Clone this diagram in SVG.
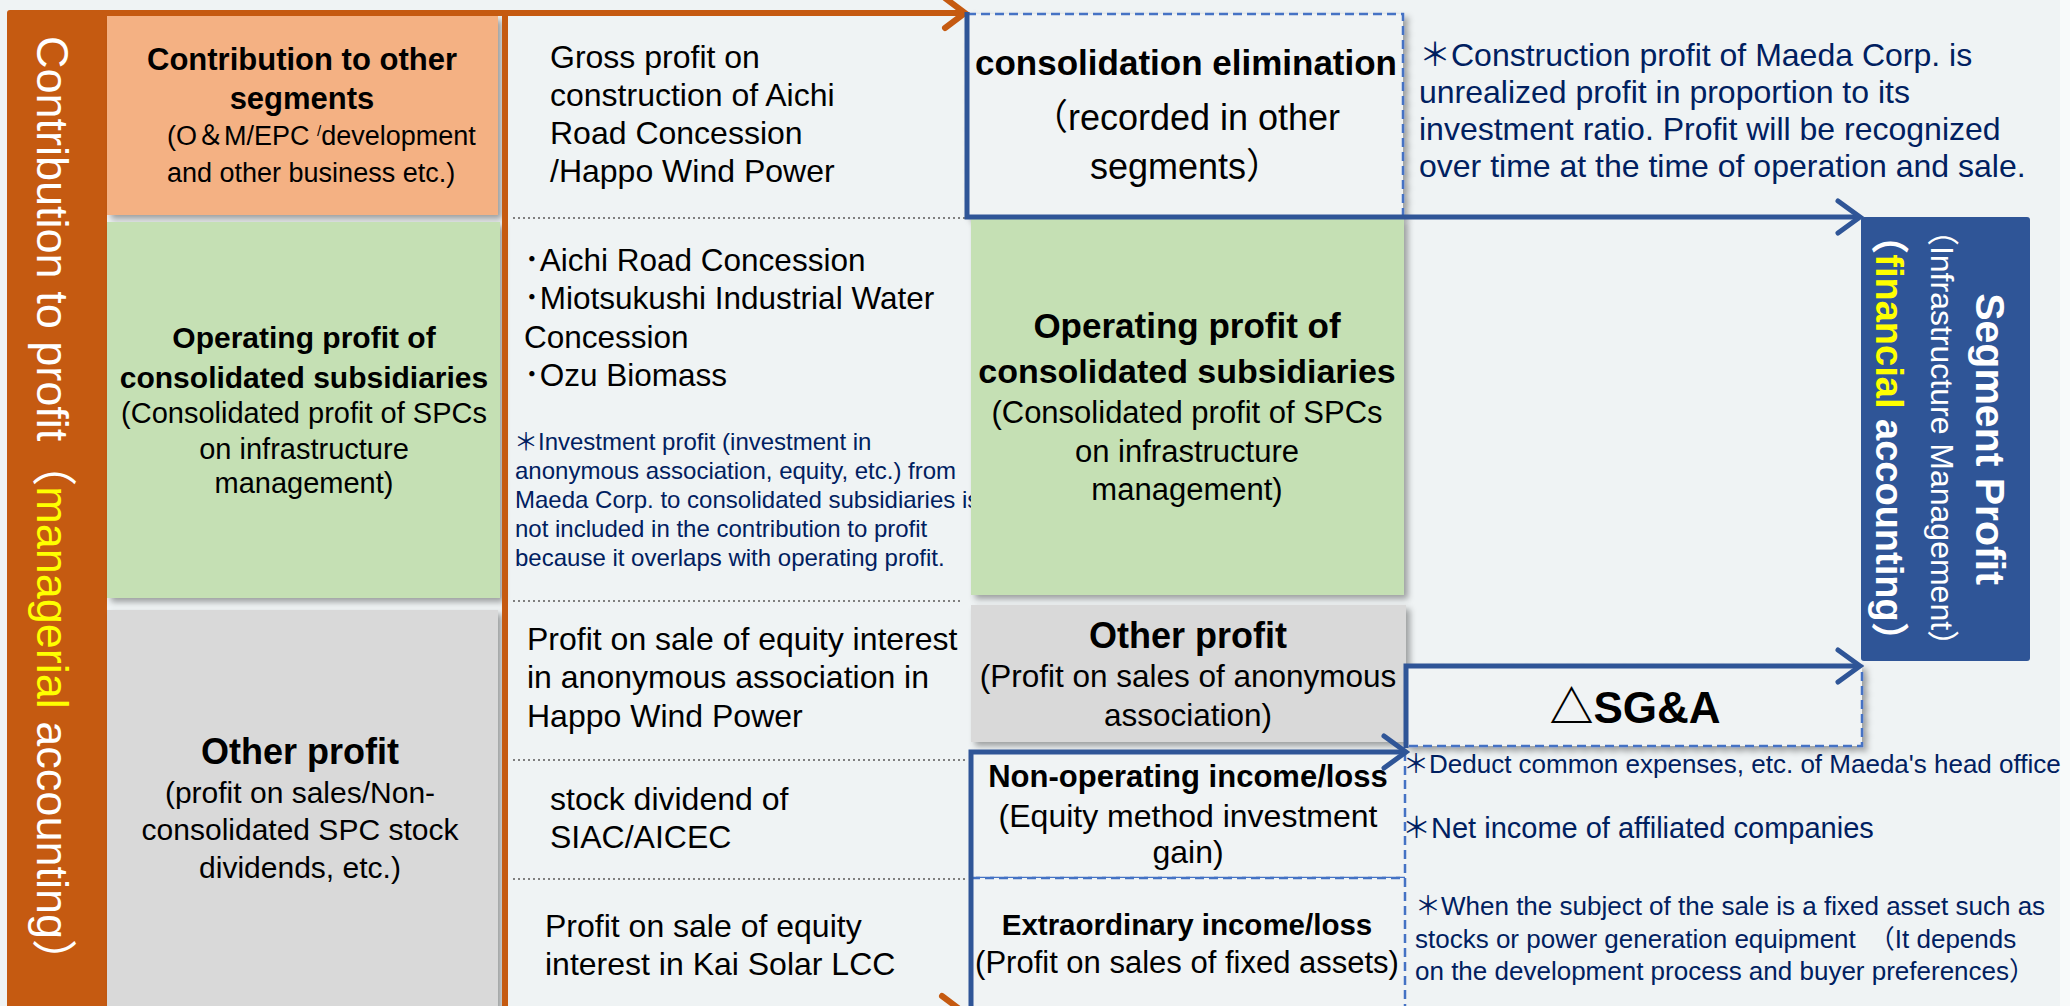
<svg xmlns="http://www.w3.org/2000/svg" width="2070" height="1006" viewBox="0 0 2070 1006">
<defs>
<style>
text{font-family:"Liberation Sans","Noto Sans CJK JP",sans-serif}
.b{font-weight:bold;fill:#000}
.r{fill:#000}
.c{text-anchor:middle}
.n{fill:#002060}
.w{fill:#fff}
.y{fill:#FFFF00}
.sep{stroke:#7F7F7F;stroke-width:2;stroke-dasharray:2 3;fill:none}
.blue{stroke:#2F5597;stroke-width:5;fill:none}
.orange{stroke:#C55A11;stroke-width:6;fill:none}
.dash{fill:#F0F3F4;stroke:#4472C4;stroke-width:2.5;stroke-dasharray:9 5}
</style>
<filter id="sh" x="-10%" y="-10%" width="130%" height="140%"><feDropShadow dx="4" dy="4" stdDeviation="3" flood-color="#000" flood-opacity="0.35"/></filter>
<marker id="ab" markerUnits="userSpaceOnUse" markerWidth="40" markerHeight="40" refX="26" refY="20" orient="auto" overflow="visible"><path d="M4,4 L26,20 L4,36" fill="none" stroke="#2F5597" stroke-width="5" stroke-linecap="round"/></marker>
<marker id="ao" markerUnits="userSpaceOnUse" markerWidth="40" markerHeight="40" refX="26" refY="20" orient="auto" overflow="visible"><path d="M6,5 L26,20 L6,35" fill="none" stroke="#C55A11" stroke-width="6" stroke-linecap="round"/></marker>
</defs>
<rect x="0" y="0" width="2070" height="1006" fill="#EFF3F4"/>
<rect x="2060" y="0" width="10" height="1006" fill="#F8FAFA"/>

<g id="left-bar">
<rect x="7" y="10" width="100" height="1000" rx="3" fill="#C55A11"/>
<text class="w c" font-size="45" transform="translate(37,510) rotate(90)">Contribution to profit（<tspan class="y">managerial</tspan> accounting）</text>
</g>

<g id="contribution-other-segments">
<rect x="107" y="16" width="391" height="199" fill="#F4B183" filter="url(#sh)"/>
<text class="b c" font-size="31" x="302" y="70">Contribution to other</text>
<text class="b c" font-size="31" x="302" y="109">segments</text>
<text class="r" font-size="27" x="167" y="145">(O＆M/EPC <tspan font-size="15" dy="-9">/</tspan><tspan dy="9">development</tspan></text>
<text class="r" font-size="27" x="167" y="182">and other business etc.)</text>
</g>

<g id="operating-profit-left">
<rect x="107" y="222" width="393" height="376" fill="#C5E0B4" filter="url(#sh)"/>
<text class="b c" font-size="30" x="304" y="348">Operating profit of</text>
<text class="b c" font-size="30" x="304" y="388">consolidated subsidiaries</text>
<text class="r c" font-size="29" x="304" y="423">(Consolidated profit of SPCs</text>
<text class="r c" font-size="29" x="304" y="459">on infrastructure</text>
<text class="r c" font-size="29" x="304" y="493">management)</text>
</g>

<g id="other-profit-left">
<rect x="107" y="610" width="391" height="400" fill="#D9D9D9" filter="url(#sh)"/>
<text class="b c" font-size="36" x="300" y="764">Other profit</text>
<text class="r c" font-size="30" x="300" y="803">(profit on sales/Non-</text>
<text class="r c" font-size="30" x="300" y="840">consolidated SPC stock</text>
<text class="r c" font-size="30" x="300" y="878">dividends, etc.)</text>
</g>

<g id="separators">
<line class="sep" x1="513" y1="218" x2="966" y2="218"/>
<line class="sep" x1="513" y1="601" x2="962" y2="601"/>
<line class="sep" x1="513" y1="760" x2="966" y2="760"/>
<line class="sep" x1="513" y1="879" x2="966" y2="879"/>
</g>

<g id="gross-profit-text">
<text class="r" font-size="32" x="550" y="68">Gross profit on</text>
<text class="r" font-size="32" x="550" y="106">construction of Aichi</text>
<text class="r" font-size="32" x="550" y="144">Road Concession</text>
<text class="r" font-size="32" x="550" y="182">/Happo Wind Power</text>
</g>

<g id="subsidiaries-list">
<text class="r" font-size="31.5" x="524" y="271">･Aichi Road Concession</text>
<text class="r" font-size="31.5" x="524" y="309">･Miotsukushi Industrial Water</text>
<text class="r" font-size="31.5" x="524" y="348">Concession</text>
<text class="r" font-size="31.5" x="524" y="386">･Ozu Biomass</text>
<text class="n" font-size="24" x="514" y="450">＊Investment profit (investment in</text>
<text class="n" font-size="24" x="515" y="479">anonymous association, equity, etc.) from</text>
<text class="n" font-size="24" x="515" y="508">Maeda Corp. to consolidated subsidiaries is</text>
<text class="n" font-size="24" x="515" y="537">not included in the contribution to profit</text>
<text class="n" font-size="24" x="515" y="566">because it overlaps with operating profit.</text>
</g>

<g id="other-profit-items">
<text class="r" font-size="32" x="527" y="650">Profit on sale of equity interest</text>
<text class="r" font-size="32" x="527" y="688">in anonymous association in</text>
<text class="r" font-size="32" x="527" y="727">Happo Wind Power</text>
<text class="r" font-size="32" x="550" y="810">stock dividend of</text>
<text class="r" font-size="32" x="550" y="848">SIAC/AICEC</text>
<text class="r" font-size="32" x="545" y="937">Profit on sale of equity</text>
<text class="r" font-size="32" x="545" y="975">interest in Kai Solar LCC</text>
</g>

<g id="consolidation-elimination">
<rect class="dash" x="967" y="14" width="436" height="203" filter="url(#sh)"/>
<text class="b c" font-size="35" x="1186" y="75">consolidation elimination</text>
<text class="r c" font-size="36" x="1186" y="130">（recorded in other</text>
<text class="r c" font-size="36" x="1186" y="179">segments）</text>
</g>

<g id="operating-profit-right">
<rect x="971" y="218" width="433" height="377" fill="#C5E0B4" filter="url(#sh)"/>
<text class="b c" font-size="35" x="1187" y="338">Operating profit of</text>
<text class="b c" font-size="34" x="1187" y="383">consolidated subsidiaries</text>
<text class="r c" font-size="31" x="1187" y="423">(Consolidated profit of SPCs</text>
<text class="r c" font-size="31" x="1187" y="462">on infrastructure</text>
<text class="r c" font-size="31" x="1187" y="500">management)</text>
</g>

<g id="other-profit-right">
<rect x="971" y="605" width="435" height="137" fill="#D9D9D9" filter="url(#sh)"/>
<text class="b c" font-size="36" x="1188" y="648">Other profit</text>
<text class="r c" font-size="31.5" x="1188" y="687">(Profit on sales of anonymous</text>
<text class="r c" font-size="31.5" x="1188" y="726">association)</text>
</g>

<g id="non-operating">
<rect class="dash" x="971" y="752" width="434" height="126"/>
<text class="b c" font-size="31" x="1188" y="787">Non-operating income/loss</text>
<text class="r c" font-size="32" x="1188" y="827">(Equity method investment</text>
<text class="r c" font-size="32" x="1188" y="863">gain)</text>
</g>

<g id="extraordinary">
<rect class="dash" x="971" y="878" width="434" height="140"/>
<text class="b c" font-size="29.5" x="1187" y="935">Extraordinary income/loss</text>
<text class="r c" font-size="31" x="1187" y="973">(Profit on sales of fixed assets)</text>
</g>

<g id="sga">
<rect class="dash" x="1406" y="666" width="456" height="80" filter="url(#sh)"/>
<text class="b c" font-size="44" x="1635" y="723">△SG&amp;A</text>
</g>

<g id="segment-profit">
<rect x="1861" y="217" width="169" height="444" rx="3" fill="#2F5597"/>
<text class="w c" font-size="41" font-weight="bold" transform="translate(1976,439) rotate(90)">Segment Profit</text>
<text class="w c" font-size="32" transform="translate(1931,438) rotate(90)">（Infrastructure Management）</text>
<text class="w c" font-size="38" font-weight="bold" transform="translate(1876,438) rotate(90)">（<tspan class="y">financial</tspan> accounting）</text>
</g>

<g id="notes">
<text class="n" font-size="32" x="1419" y="66">＊Construction profit of Maeda Corp. is</text>
<text class="n" font-size="32" x="1419" y="103">unrealized profit in proportion to its</text>
<text class="n" font-size="32" x="1419" y="140">investment ratio. Profit will be recognized</text>
<text class="n" font-size="32" x="1419" y="177">over time at the time of operation and sale.</text>
<text class="n" font-size="26" x="1403" y="773">＊Deduct common expenses, etc. of Maeda's head office</text>
<text class="n" font-size="29" x="1402" y="838">＊Net income of affiliated companies</text>
<text class="n" font-size="26" x="1415" y="915">＊When the subject of the sale is a fixed asset such as</text>
<text class="n" font-size="26" x="1415" y="948">stocks or power generation equipment　（It depends</text>
<text class="n" font-size="26" x="1415" y="980">on the development process and buyer preferences）</text>
</g>

<g id="connectors">
<path class="orange" d="M103,13 H965" marker-end="url(#ao)"/>
<path class="orange" d="M505,13 V1011 H962" marker-end="url(#ao)"/>
<path class="blue" d="M967,12 V217 H1860" marker-end="url(#ab)"/>
<path class="blue" d="M971,1012 V752 H1406" marker-end="url(#ab)"/>
<path class="blue" d="M1406,748 V666 H1860" marker-end="url(#ab)"/>
</g>
</svg>
